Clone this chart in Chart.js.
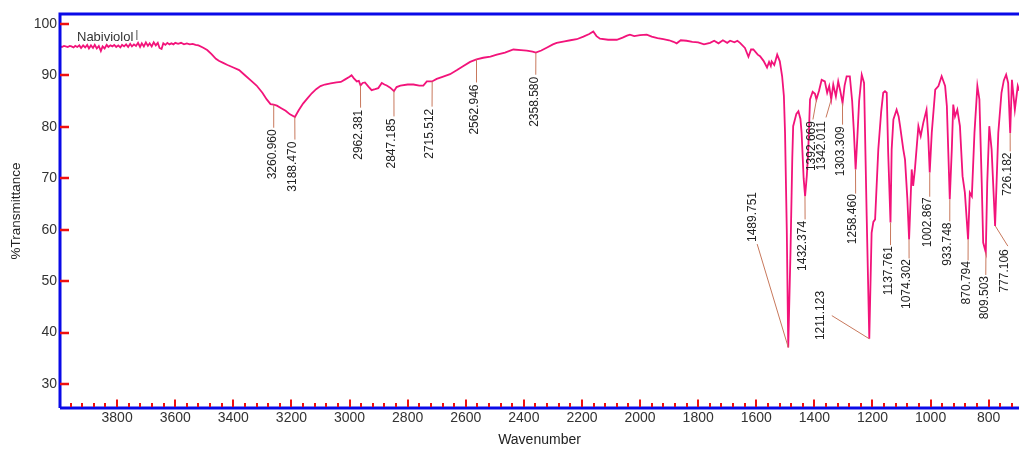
<!DOCTYPE html>
<html>
<head>
<meta charset="utf-8">
<script src="https://cdn.jsdelivr.net/npm/chart.js@4.4.1/dist/chart.umd.min.js"></script>
<style>
html,body{margin:0;padding:0;background:#fff;}
canvas{display:block;}
</style>
</head>
<body>
<canvas id="c" width="1019" height="450" style="width:1019px;height:450px"></canvas>
<script>
// ---- data: [wavenumber (cm-1), %Transmittance] ----
const spectrum = [
[3996,95.6],[3990,95.5],[3983,95.7],[3977,95.6],[3970,95.5],[3963,95.7],[3957,95.6],[3950,95.4],
[3944,95.7],[3937,95.5],[3930,95.8],[3924,95.3],[3917,95.8],[3910,95.4],[3903,95.9],[3897,95.2],
[3890,95.8],[3883,95.3],[3877,95.9],[3870,95.2],[3863,95.7],[3856,94.7],[3850,95.6],[3843,95.2],
[3836,95.9],[3830,95.5],[3823,95.8],[3816,95.6],[3810,95.9],[3803,95.5],[3796,95.8],[3789,95.4],
[3783,95.9],[3776,95.6],[3769,96.0],[3762,95.5],[3755,96.1],[3749,95.6],[3742,96.0],[3735,95.7],
[3728,96.3],[3721,95.5],[3715,96.2],[3708,95.6],[3701,96.4],[3694,95.7],[3688,96.2],[3681,95.6],
[3674,96.4],[3667,95.8],[3660,96.3],[3654,95.3],[3647,95.1],[3641,96.2],[3634,95.9],[3627,96.3],
[3620,96.0],[3613,96.2],[3606,96.0],[3600,96.3],[3590,96.1],[3580,96.3],[3570,96.0],[3560,96.2],
[3550,96.0],[3540,96.1],[3530,95.9],[3520,95.8],[3505,95.4],[3490,94.9],[3475,94.1],[3460,93.2],
[3450,92.8],[3435,92.4],[3420,92.0],[3400,91.5],[3380,91.0],[3360,90.0],[3340,89.0],[3320,88.0],
[3300,86.6],[3285,85.3],[3272,84.4],[3261,84.3],[3250,84.1],[3235,83.6],[3220,83.1],[3205,82.4],
[3188,81.9],[3175,83.2],[3160,84.5],[3145,85.5],[3130,86.5],[3115,87.3],[3100,87.9],[3085,88.2],
[3065,88.4],[3045,88.6],[3030,88.7],[3015,89.2],[3000,89.7],[2993,90.0],[2985,89.4],[2975,88.8],
[2968,88.9],[2962,88.0],[2955,88.5],[2947,88.6],[2935,87.8],[2924,87.1],[2912,87.3],[2901,87.5],
[2889,88.5],[2880,88.2],[2872,88.0],[2860,87.6],[2847,86.9],[2838,87.7],[2825,88.0],[2800,88.2],
[2780,88.2],[2760,88.0],[2746,88.0],[2734,88.8],[2716,88.8],[2700,89.3],[2680,89.7],[2654,90.2],
[2630,91.0],[2608,91.8],[2585,92.6],[2563,93.1],[2540,93.4],[2515,93.6],[2493,94.0],[2465,94.4],
[2436,95.0],[2410,94.9],[2390,94.8],[2370,94.6],[2359,94.4],[2340,94.8],[2320,95.4],[2300,96.0],
[2287,96.3],[2260,96.6],[2240,96.8],[2218,97.0],[2195,97.5],[2175,98.0],[2161,98.5],[2150,97.6],
[2138,97.1],[2110,96.9],[2080,96.9],[2060,97.3],[2045,97.7],[2035,97.9],[2020,97.6],[2000,97.8],
[1977,97.9],[1960,97.5],[1940,97.2],[1920,97.0],[1900,96.8],[1885,96.5],[1874,96.2],[1860,96.8],
[1840,96.7],[1820,96.5],[1800,96.4],[1780,96.0],[1759,96.3],[1745,96.7],[1730,96.2],[1715,96.8],
[1700,96.3],[1690,96.7],[1675,96.4],[1665,96.7],[1656,96.3],[1639,95.3],[1627,93.6],[1618,95.0],
[1610,95.0],[1595,94.0],[1587,93.7],[1575,92.8],[1563,91.5],[1556,92.6],[1550,91.8],[1547,92.7],
[1538,92.0],[1528,94.0],[1519,92.7],[1511,89.8],[1505,86.0],[1501,78.8],[1495,60.0],[1490,37.1],
[1482,56.2],[1476,74.0],[1473,80.1],[1462,82.5],[1455,83.0],[1448,81.5],[1444,78.8],[1437,70.0],
[1432,66.5],[1426,70.5],[1421,75.6],[1415,85.3],[1406,86.8],[1398,86.4],[1393,85.3],[1384,87.0],
[1375,89.1],[1364,88.8],[1356,86.6],[1349,87.9],[1342,85.3],[1335,88.2],[1326,85.9],[1318,88.8],
[1311,87.0],[1303,84.6],[1296,88.0],[1289,89.8],[1278,89.8],[1270,85.0],[1264,79.0],[1258,71.7],
[1252,78.0],[1246,85.0],[1237,90.1],[1229,88.5],[1220,62.7],[1211,38.8],[1203,59.4],[1197,61.5],
[1191,62.0],[1180,75.6],[1170,83.0],[1163,86.6],[1157,86.9],[1151,86.6],[1146,75.0],[1138,61.4],
[1134,75.6],[1128,81.4],[1117,83.3],[1110,82.0],[1105,80.1],[1094,75.6],[1088,73.6],[1080,66.0],
[1074,58.1],[1065,71.7],[1060,68.5],[1054,71.7],[1042,80.1],[1034,78.2],[1025,80.8],[1014,83.3],
[1008,78.0],[1003,71.1],[996,78.8],[984,87.2],[973,87.9],[962,89.8],[950,87.9],[944,84.0],
[934,65.9],[927,75.6],[922,84.3],[916,82.0],[908,83.3],[899,80.1],[890,70.4],[882,67.2],
[871,58.1],[865,67.2],[858,66.5],[849,78.8],[839,87.9],[832,85.3],[824,69.1],[819,57.5],
[810,55.6],[805,69.1],[798,80.1],[790,75.6],[778,60.7],[767,78.8],[756,86.6],[748,89.0],
[740,90.1],[733,88.5],[726,78.8],[720,89.1],[710,83.3],[700,87.9],[695,87.0]
];
const peakLabels = ["3260.960","3188.470","2962.381","2847.185","2715.512","2562.946","2358.580",
  "1489.751","1432.374","1392.669","1342.011","1303.309","1258.460","1211.123","1137.761",
  "1074.302","1002.867","933.748","870.794","809.503","777.106","726.182"];
const peakT = [84.3,81.9,88.0,86.9,88.8,93.1,94.4,37.1,66.5,85.3,85.3,84.6,71.7,38.8,61.4,58.1,71.1,65.9,58.1,55.6,60.7,78.8];
const xTicks = [3800,3600,3400,3200,3000,2800,2600,2400,2200,2000,1800,1600,1400,1200,1000,800];
const xMinorStep = 40;
const yTicks = [30,40,50,60,70,80,90,100];
const sampleName = "Nabiviolol";

// ---- label layout (leader end point, text anchor), in data units ----
const labelLayout = [
 {e:[3261,79.8],t:[3266,79.5],a:'top'},
 {e:[3188,77.5],t:[3194,77.1],a:'top'},
 {e:[2962,83.7],t:[2968,83.3],a:'top'},
 {e:[2847,82.0],t:[2854,81.6],a:'top'},
 {e:[2716,83.9],t:[2723,83.5],a:'top'},
 {e:[2563,88.6],t:[2569,88.2],a:'top'},
 {e:[2359,90.1],t:[2363,89.7],a:'top'},
 {e:[1597,57.2],t:[1611,57.6],a:'bottom'},
 {e:[1432,62.0],t:[1439,61.7],a:'top'},
 {e:[1405,81.4],t:[1409,81.1],a:'top'},
 {e:[1360,81.8],t:[1375,81.1],a:'top'},
 {e:[1303,80.4],t:[1310,80.1],a:'top'},
 {e:[1258,67.0],t:[1267,66.9],a:'top'},
 {e:[1340,43.3],t:[1380,48.1],a:'top'},
 {e:[1138,57.0],t:[1143,56.8],a:'top'},
 {e:[1074,54.4],t:[1081,54.3],a:'top'},
 {e:[1003,66.4],t:[1010,66.3],a:'top'},
 {e:[934,61.6],t:[941,61.4],a:'top'},
 {e:[871,54.0],t:[877,53.9],a:'top'},
 {e:[810,51.2],t:[815,51.0],a:'top'},
 {e:[734,56.8],t:[744,56.2],a:'top'},
 {e:[726,75.2],t:[734,75.0],a:'top'}
];

const FONT = '"Liberation Sans", Arial, Helvetica, sans-serif';

const decor = {
  id:'decor',
  afterDatasetsDraw(chart){
    const {ctx, chartArea:a, scales:{x,y}} = chart;
    const X = v => x.getPixelForValue(v), Y = v => y.getPixelForValue(v);
    ctx.save();
    // peak annotations
    ctx.font = '12px ' + FONT;
    ctx.fillStyle = '#222';
    ctx.textBaseline = 'middle';
    peakLabels.forEach((lab,i)=>{
      const L = labelLayout[i];
      const pw = parseFloat(lab);
      ctx.strokeStyle = '#c8785c'; ctx.lineWidth = 1;
      ctx.beginPath();
      ctx.moveTo(X(pw), Y(peakT[i]));
      ctx.lineTo(X(L.e[0]), Y(L.e[1]));
      ctx.stroke();
      ctx.save();
      ctx.translate(X(L.t[0]), Y(L.t[1]));
      ctx.rotate(-Math.PI/2);
      ctx.textAlign = L.a === 'bottom' ? 'left' : 'right';
      ctx.fillText(lab, 0, 0);
      ctx.restore();
    });
    // sample name
    ctx.font = '13px ' + FONT;
    ctx.fillStyle = '#333';
    ctx.textAlign = 'left'; ctx.textBaseline = 'alphabetic';
    ctx.fillText(sampleName, a.left + 17, a.top + 27);
    const tw = ctx.measureText(sampleName).width;
    ctx.strokeStyle = '#555'; ctx.lineWidth = 1;
    ctx.beginPath(); ctx.moveTo(a.left + 17 + tw + 3.5, a.top + 16); ctx.lineTo(a.left + 17 + tw + 3.5, a.top + 26); ctx.stroke();

    // frame
    ctx.strokeStyle = '#0a0ae8'; ctx.lineWidth = 3;
    ctx.beginPath();
    ctx.moveTo(a.left, a.bottom); ctx.lineTo(a.left, a.top); ctx.lineTo(a.right + 2, a.top);
    ctx.moveTo(a.left, a.bottom); ctx.lineTo(a.right + 2, a.bottom);
    ctx.stroke();
    // ticks
    ctx.strokeStyle = '#f01010'; ctx.lineWidth = 2.5;
    ctx.beginPath();
    yTicks.forEach(v=>{ const py = Math.round(Y(v)); ctx.moveTo(a.left, py); ctx.lineTo(a.left + 9, py); });
    ctx.stroke();
    ctx.lineWidth = 2;
    ctx.beginPath();
    const lo = Math.ceil(x.min / xMinorStep) * xMinorStep;
    for (let w = lo; w <= x.max; w += xMinorStep) {
      const px = Math.round(X(w));
      const major = xTicks.includes(w);
      ctx.moveTo(px, a.bottom - 1); ctx.lineTo(px, a.bottom - (major ? 8.5 : 5));
    }
    ctx.stroke();
    ctx.restore();
  }
};

new Chart(document.getElementById('c'), {
  type: 'line',
  data: {
    datasets: [{
      data: spectrum.map(p => ({x:p[0], y:p[1]})),
      borderColor: '#f2137a',
      borderWidth: 1.8,
      pointRadius: 0,
      tension: 0,
      fill: false
    }]
  },
  options: {
    responsive: false,
    animation: false,
    devicePixelRatio: 1,
    layout: { padding: { top: 14, left: 0, right: 0, bottom: 0 } },
    plugins: { legend: { display: false }, tooltip: { enabled: false } },
    scales: {
      x: {
        type: 'linear', reverse: true, min: 695.7, max: 3996.6,
        grid: { display: false, drawTicks: false },
        border: { display: false },
        ticks: { padding: 2, color: '#333', font: { family: FONT, size: 14 }, maxRotation: 0, autoSkip: false,
                 callback: v => String(v) },
        afterBuildTicks: s => { s.ticks = xTicks.map(v => ({value: v})); },
        afterFit: s => { s.height = 42; },
        title: { display: true, text: 'Wavenumber', color: '#222', font: { family: FONT, size: 14 }, padding: { top: 0, bottom: 1 } }
      },
      y: {
        type: 'linear', min: 25.35, max: 101.9,
        grid: { display: false, drawTicks: false },
        border: { display: false },
        ticks: { padding: 3, color: '#333', font: { family: FONT, size: 14 }, autoSkip: false,
                 callback: v => String(v) },
        afterBuildTicks: s => { s.ticks = yTicks.map(v => ({value: v})); },
        afterFit: s => { s.width = 60; },
        title: { display: true, text: '%Transmittance', color: '#222', font: { family: FONT, size: 13.5 }, padding: { top: 8, bottom: 0 } }
      }
    }
  },
  plugins: [decor]
});
</script>
</body>
</html>
